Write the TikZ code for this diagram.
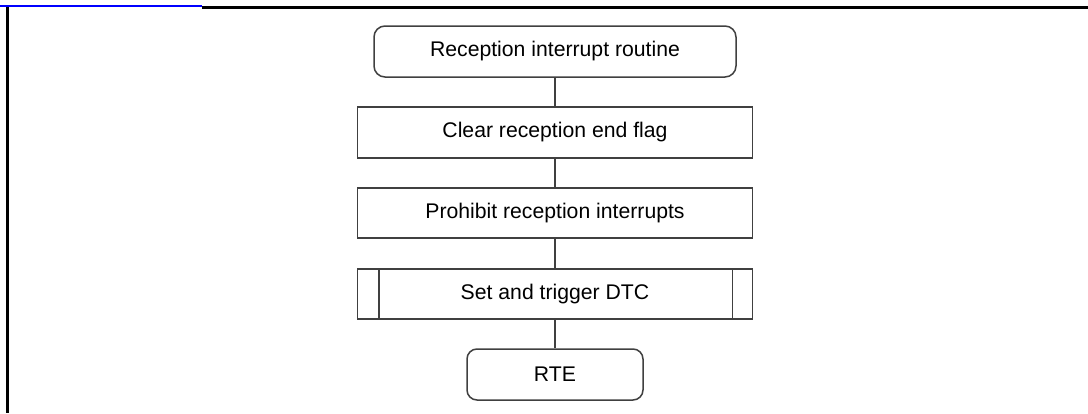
\documentclass[tikz,border=0pt]{standalone}
\usepackage{fontspec}
\setmainfont{Liberation Sans}
\begin{document}
\begin{tikzpicture}[x=1pt,y=-1pt,
  box/.style={draw=black!75,line width=1.5pt,fill=white,minimum width=395pt,minimum height=50pt,inner sep=0pt,font=\fontsize{21.2}{25}\selectfont},
  term/.style={box,rounded corners=11pt},
  conn/.style={draw=black!75,line width=1.5pt},
  frame/.style={line width=2.4pt}]
\useasboundingbox (0,0) rectangle (1088,413);
\draw[frame] (202,7.5) -- (1088,7.5);
\draw[frame,blue] (0,6) -- (202,6);
\draw[frame] (7.5,7) -- (7.5,413);
\node[term,minimum width=362pt,minimum height=51pt] (start) at (555,51.5) {Reception interrupt routine};
\node[box,minimum height=51pt] (clr) at (555,132.5) {Clear reception end flag};
\node[box,minimum height=50pt] (proh) at (555,213) {Prohibit reception interrupts};
\node[box,minimum height=50pt] (dtc) at (555,294) {Set and trigger DTC};
\draw[conn] ([xshift=22pt]dtc.north west) -- ([xshift=22pt]dtc.south west);
\draw[conn] ([xshift=-21pt]dtc.north east) -- ([xshift=-21pt]dtc.south east);
\node[term,minimum width=176pt,minimum height=51pt,rounded corners=10pt] (rte) at (555,374.5) {RTE};
\draw[conn] (start.south) -- (clr.north);
\draw[conn] (clr.south) -- (proh.north);
\draw[conn] (proh.south) -- (dtc.north);
\draw[conn] (dtc.south) -- (rte.north);
\end{tikzpicture}
\end{document}
